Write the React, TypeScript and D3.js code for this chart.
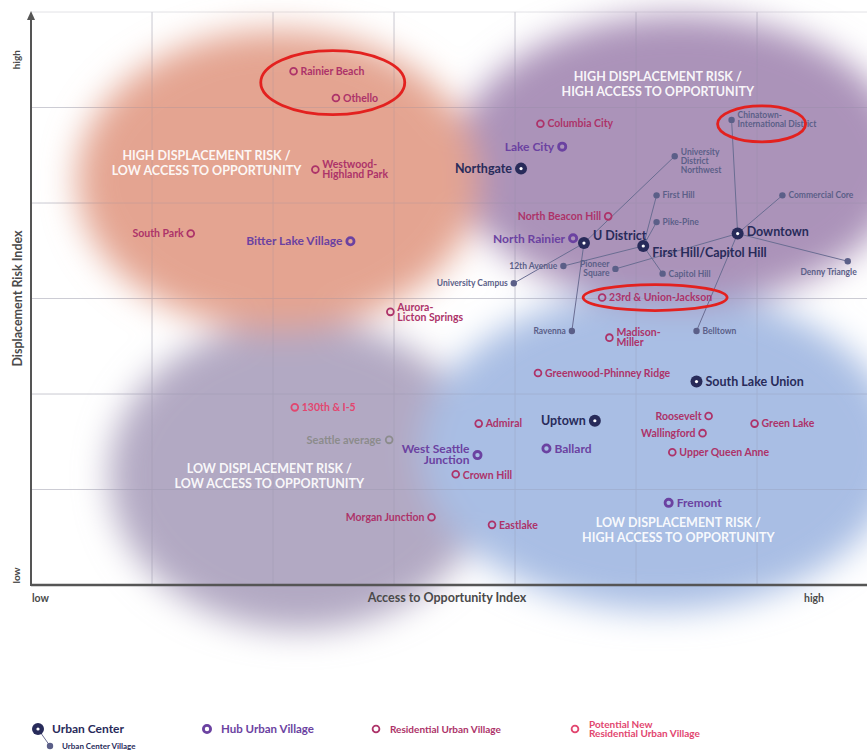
import { useEffect, useRef } from 'react';
import * as d3 from 'd3';

const W = 867;
const H = 753;

// values are in grid units: access (0 = low .. 7) and displacement risk (0 = low .. 6)
const centerNames = ['Northgate', 'U District', 'First Hill/Capitol Hill', 'Downtown', 'Uptown', 'South Lake Union'];
const centerAccess = [4.05, 4.57, 5.06, 5.84, 4.66, 5.5];
const centerRisk = [4.36, 3.58, 3.55, 3.68, 1.72, 2.13];

const hubNames = ['Bitter Lake Village', 'Lake City', 'North Rainier', 'West Seattle Junction', 'Ballard', 'Fremont'];
const hubAccess = [2.64, 4.39, 4.48, 3.69, 4.26, 5.27];
const hubRisk = [3.6, 4.59, 3.63, 1.36, 1.43, 0.86];

const resNames = [
  'Rainier Beach', 'Othello', 'Westwood-Highland Park', 'South Park', 'Columbia City',
  'North Beacon Hill', '23rd & Union-Jackson', 'Aurora-Licton Springs', 'Madison-Miller',
  'Greenwood-Phinney Ridge', 'Admiral', 'Roosevelt', 'Green Lake', 'Wallingford',
  'Upper Queen Anne', 'Crown Hill', 'Morgan Junction', 'Eastlake',
];
const resAccess = [2.17, 2.52, 2.35, 1.32, 4.21, 4.77, 4.72, 2.97, 4.78, 4.19, 3.7, 5.6, 5.98, 5.55, 5.3, 3.51, 3.31, 3.81];
const resRisk = [5.38, 5.1, 4.35, 3.68, 4.83, 3.86, 3.01, 2.86, 2.59, 2.22, 1.69, 1.77, 1.69, 1.59, 1.39, 1.16, 0.71, 0.63];

const potentialNames = ['130th & I-5'];
const potentialAccess = [2.18];
const potentialRisk = [1.86];

const averageNames = ['Seattle average'];
const averageAccess = [2.96];
const averageRisk = [1.52];

const villageNames = [
  'Chinatown-International District', 'University District Northwest', 'First Hill', 'Commercial Core',
  'Pike-Pine', '12th Avenue', 'Pioneer Square', 'Capitol Hill', 'Denny Triangle',
  'University Campus', 'Ravenna', 'Belltown',
];
const villageAccess = [5.79, 5.32, 5.17, 6.21, 5.17, 4.4, 4.83, 5.22, 6.75, 3.99, 4.47, 5.5];
const villageRisk = [4.87, 4.49, 4.08, 4.08, 3.8, 3.34, 3.31, 3.26, 3.39, 3.16, 2.66, 2.66];
const villageParent = [
  'Downtown', 'U District', 'First Hill/Capitol Hill', 'Downtown',
  'First Hill/Capitol Hill', 'First Hill/Capitol Hill', 'Downtown', 'First Hill/Capitol Hill', 'Downtown',
  'U District', 'U District', 'Downtown',
];

const highlighted = [['Rainier Beach', 'Othello'], ['Chinatown-International District'], ['23rd & Union-Jackson']];

const quadrantText = [
  ['HIGH DISPLACEMENT RISK /', 'LOW ACCESS TO OPPORTUNITY'],
  ['HIGH DISPLACEMENT RISK /', 'HIGH ACCESS TO OPPORTUNITY'],
  ['LOW DISPLACEMENT RISK /', 'LOW ACCESS TO OPPORTUNITY'],
  ['LOW DISPLACEMENT RISK /', 'HIGH ACCESS TO OPPORTUNITY'],
];

const legendLabels = ['Urban Center', 'Hub Urban Village', 'Residential Urban Village', 'Potential New\nResidential Urban Village'];

const FONT = "Lato, 'Open Sans', sans-serif";

const styles: Record<string, any> = {
  center: { color: '#282b5a', size: 12.5, gap: 9, lh: 1 },
  hub: { color: '#6b42a1', size: 12, gap: 8, lh: 0.88 },
  res: { color: '#ad3369', size: 10.5, gap: 7, lh: 0.95 },
  potential: { color: '#e2466f', size: 10.5, gap: 7, lh: 0.95 },
  avg: { color: '#8c8c8c', size: 11, gap: 8, lh: 1 },
  village: { color: '#5b5f88', size: 8.5, gap: 6, lh: 1.08 },
};

// label placement: side and small nudges (px)
const leftLabels = new Set([
  'South Park', 'Bitter Lake Village', 'Lake City', 'Northgate', 'North Beacon Hill', 'North Rainier',
  '12th Avenue', 'Pioneer Square', 'University Campus', 'Ravenna', 'Seattle average', 'Uptown',
  'Roosevelt', 'Wallingford', 'West Seattle Junction', 'Morgan Junction',
]);
const nudge: Record<string, number> = {
  'U District': -7,
  'First Hill/Capitol Hill': 7,
  Downtown: -2,
  'University District Northwest': 5,
  'West Seattle Junction': -1,
  'Crown Hill': 1,
};
const multiline: Record<string, string[]> = {
  'Westwood-Highland Park': ['Westwood-', 'Highland Park'],
  'Chinatown-International District': ['Chinatown-', 'International District'],
  'University District Northwest': ['University', 'District', 'Northwest'],
  'Pioneer Square': ['Pioneer', 'Square'],
  'Aurora-Licton Springs': ['Aurora-', 'Licton Springs'],
  'Madison-Miller': ['Madison-', 'Miller'],
  'West Seattle Junction': ['West Seattle', 'Junction'],
};

function marker(g: any, kind: string, cx: number, cy: number) {
  const c = styles[kind].color;
  if (kind === 'center') {
    g.append('circle').attr('cx', cx).attr('cy', cy).attr('r', 6).attr('fill', c);
    g.append('circle').attr('cx', cx).attr('cy', cy).attr('r', 1.6).attr('fill', '#fff');
  } else if (kind === 'hub') {
    g.append('circle').attr('cx', cx).attr('cy', cy).attr('r', 3.6)
      .attr('fill', 'none').attr('stroke', c).attr('stroke-width', 2.8);
  } else if (kind === 'village') {
    g.append('circle').attr('cx', cx).attr('cy', cy).attr('r', 3.2).attr('fill', c);
  } else {
    g.append('circle').attr('cx', cx).attr('cy', cy).attr('r', 3.4)
      .attr('fill', 'none').attr('stroke', c).attr('stroke-width', 1.8);
  }
}

function label(g: any, kind: string, name: string, cx: number, cy: number) {
  const st = styles[kind];
  const lines = multiline[name] || [name];
  const lh = st.size * st.lh;
  let tx = cx + st.gap;
  let ty = cy + (nudge[name] || 0);
  let anchor = 'start';
  if (leftLabels.has(name)) {
    tx = cx - st.gap;
    anchor = 'end';
  }
  if (name === 'Denny Triangle') {
    tx = cx + 9;
    ty = cy + 11;
    anchor = 'end';
  }
  const t = g.append('text')
    .attr('x', tx).attr('y', ty - ((lines.length - 1) * lh) / 2)
    .attr('text-anchor', anchor)
    .attr('font-family', FONT).attr('font-weight', 700)
    .attr('font-size', st.size).attr('fill', st.color);
  lines.forEach((ln, i) => {
    t.append('tspan').attr('x', tx).attr('dy', i === 0 ? '0.35em' : lh).text(ln);
  });
}

export default function App() {
  const svgRef = useRef<SVGSVGElement>(null);

  useEffect(() => {
    if (!svgRef.current) return;
    document.body.style.margin = '0';
    const svg = d3.select(svgRef.current);
    svg.selectAll('*').remove();

    const x = d3.scaleLinear().domain([0, 7]).range([31, 878]);
    const y = d3.scaleLinear().domain([0, 6]).range([585, 12]);

    const pts: Record<string, [number, number]> = {};
    const addAll = (names: string[], ax: number[], ry: number[]) =>
      names.forEach((n, i) => (pts[n] = [x(ax[i]), y(ry[i])]));
    addAll(centerNames, centerAccess, centerRisk);
    addAll(hubNames, hubAccess, hubRisk);
    addAll(resNames, resAccess, resRisk);
    addAll(potentialNames, potentialAccess, potentialRisk);
    addAll(averageNames, averageAccess, averageRisk);
    addAll(villageNames, villageAccess, villageRisk);

    const defs = svg.append('defs');
    defs.append('filter').attr('id', 'soft')
      .attr('x', '-50%').attr('y', '-50%').attr('width', '200%').attr('height', '200%')
      .append('feGaussianBlur').attr('stdDeviation', 17);

    svg.append('rect').attr('width', W).attr('height', H).attr('fill', '#fff');

    // grid
    const grid = svg.append('g');
    grid.selectAll('line.v').data(d3.range(1, 7)).join('line').attr('class', 'v')
      .attr('x1', (d) => x(d)).attr('x2', (d) => x(d)).attr('y1', y(6)).attr('y2', y(0))
      .attr('stroke', '#e2e2e6').attr('stroke-width', 1);
    grid.selectAll('line.h').data(d3.range(1, 7)).join('line').attr('class', 'h')
      .attr('x1', x(0)).attr('x2', W).attr('y1', (d) => y(d)).attr('y2', (d) => y(d))
      .attr('stroke', '#e2e2e6').attr('stroke-width', 1);

    // soft quadrant zones: [cx, cy, rx, ry] in grid units, colour
    const zones: [number, number, number, number, string][] = [
      [2.22, 1.15, 1.57, 1.62, '#b2a9c3'],
      [5.2, 1.41, 1.98, 1.68, '#a9bee4'],
      [5.36, 4.45, 1.86, 1.52, '#ab93b9'],
      [2.04, 4.24, 1.66, 1.57, '#e4a491'],
    ];
    svg.append('g').attr('filter', 'url(#soft)')
      .selectAll('ellipse').data(zones).join('ellipse')
      .attr('cx', (d) => x(d[0])).attr('cy', (d) => y(d[1]))
      .attr('rx', (d) => x(d[2]) - x(0)).attr('ry', (d) => y(0) - y(d[3]))
      .attr('fill', (d) => d[4]);

    // faint grid over zones
    const grid2 = svg.append('g').attr('opacity', 0.3);
    grid2.selectAll('line.v').data(d3.range(1, 7)).join('line').attr('class', 'v')
      .attr('x1', (d) => x(d)).attr('x2', (d) => x(d)).attr('y1', y(6)).attr('y2', y(0))
      .attr('stroke', '#8a8aa0').attr('stroke-width', 0.8);
    grid2.selectAll('line.h').data(d3.range(1, 6)).join('line').attr('class', 'h')
      .attr('x1', x(0)).attr('x2', W).attr('y1', (d) => y(d)).attr('y2', (d) => y(d))
      .attr('stroke', '#8a8aa0').attr('stroke-width', 0.8);

    // quadrant captions
    const qPos = [[1.45, 4.42], [5.18, 5.24], [1.97, 1.14], [5.35, 0.57]];
    quadrantText.forEach((lines, i) => {
      const t = svg.append('text').attr('text-anchor', 'middle')
        .attr('font-family', FONT).attr('font-weight', 700).attr('font-size', 12.5)
        .attr('fill', '#fff').attr('fill-opacity', 0.93)
        .attr('x', x(qPos[i][0])).attr('y', y(qPos[i][1]) - 7.5);
      lines.forEach((ln, j) => t.append('tspan').attr('x', x(qPos[i][0])).attr('dy', j === 0 ? '0.35em' : 15).text(ln));
    });

    // connectors from centre villages to their urban centres
    svg.append('g').selectAll('line').data(villageNames).join('line')
      .attr('x1', (d) => pts[d][0]).attr('y1', (d) => pts[d][1])
      .attr('x2', (d, i) => pts[villageParent[i]][0]).attr('y2', (d, i) => pts[villageParent[i]][1])
      .attr('stroke', '#6a6d92').attr('stroke-width', 1);

    const marks = svg.append('g');
    const groups: [string, string[]][] = [
      ['village', villageNames], ['res', resNames], ['potential', potentialNames],
      ['avg', averageNames], ['hub', hubNames], ['center', centerNames],
    ];
    groups.forEach(([kind, names]) => names.forEach((n) => marker(marks, kind, pts[n][0], pts[n][1])));
    groups.forEach(([kind, names]) => names.forEach((n) => label(marks, kind, n, pts[n][0], pts[n][1])));

    // red highlight rings
    const ringSize = [[72, 32], [44, 18], [72, 13]];
    const ringShift = [[18, -2], [30, 4], [53, 0]];
    highlighted.forEach((names, i) => {
      const cx = d3.mean(names, (n) => pts[n][0]) as number;
      const cy = d3.mean(names, (n) => pts[n][1]) as number;
      svg.append('ellipse').attr('cx', cx + ringShift[i][0]).attr('cy', cy + ringShift[i][1])
        .attr('rx', ringSize[i][0]).attr('ry', ringSize[i][1])
        .attr('fill', 'none').attr('stroke', '#e3211f').attr('stroke-width', 2.8);
    });

    // axes
    const axisColor = '#555';
    svg.append('line').attr('x1', x(0)).attr('x2', W).attr('y1', y(0)).attr('y2', y(0))
      .attr('stroke', axisColor).attr('stroke-width', 2.4);
    svg.append('line').attr('x1', x(0)).attr('x2', x(0)).attr('y1', y(0) + 1).attr('y2', y(6) + 4)
      .attr('stroke', axisColor).attr('stroke-width', 2);
    svg.append('path')
      .attr('d', `M${x(0)},${y(6) - 1} L${x(0) - 4},${y(6) + 8} L${x(0) + 4},${y(6) + 8} Z`)
      .attr('fill', axisColor);

    const axisText = (txt: string, tx: number, ty: number, size: number, anchor: string, rot = false) =>
      svg.append('text').attr('transform', `translate(${tx},${ty})${rot ? ' rotate(-90)' : ''}`)
        .attr('text-anchor', anchor).attr('dy', '0.35em')
        .attr('font-family', FONT).attr('font-weight', 700).attr('font-size', size)
        .attr('fill', '#4a4a4a').text(txt);
    axisText('Displacement Risk Index', 18, y(3), 12.5, 'middle', true);
    axisText('high', 16, y(5.5), 10, 'middle', true);
    axisText('low', 16, y(0.1), 10, 'middle', true);
    axisText('low', x(0) + 1, 598, 10.5, 'start');
    axisText('Access to Opportunity Index', 447, 598, 12.5, 'middle');
    axisText('high', 814, 598, 10.5, 'middle');

    // legend
    const lg = svg.append('g');
    const legendKinds = ['center', 'hub', 'res', 'potential'];
    const legendX = [38, 207, 376, 575];
    const ly = 729;
    lg.append('line').attr('x1', legendX[0]).attr('y1', ly).attr('x2', 50).attr('y2', 746)
      .attr('stroke', '#6a6d92').attr('stroke-width', 1);
    marker(lg, 'village', 50, 746);
    lg.append('text').attr('x', 62).attr('y', 746).attr('dy', '0.35em')
      .attr('font-family', FONT).attr('font-weight', 700).attr('font-size', 8)
      .attr('fill', styles.center.color).text('Urban Center Village');
    legendKinds.forEach((k, i) => {
      marker(lg, k, legendX[i], ly);
      const lines = legendLabels[i].split('\n');
      const t = lg.append('text').attr('x', legendX[i] + 14).attr('y', ly - ((lines.length - 1) * 9.5) / 2)
        .attr('font-family', FONT).attr('font-weight', 700)
        .attr('font-size', k === 'center' ? 12 : k === 'hub' ? 11.5 : 10)
        .attr('fill', styles[k].color);
      lines.forEach((ln, j) => t.append('tspan').attr('x', legendX[i] + 14).attr('dy', j === 0 ? '0.35em' : 9.5).text(ln));
    });
  }, []);

  return <svg ref={svgRef} width={W} height={H} style={{ display: 'block' }} />;
}
